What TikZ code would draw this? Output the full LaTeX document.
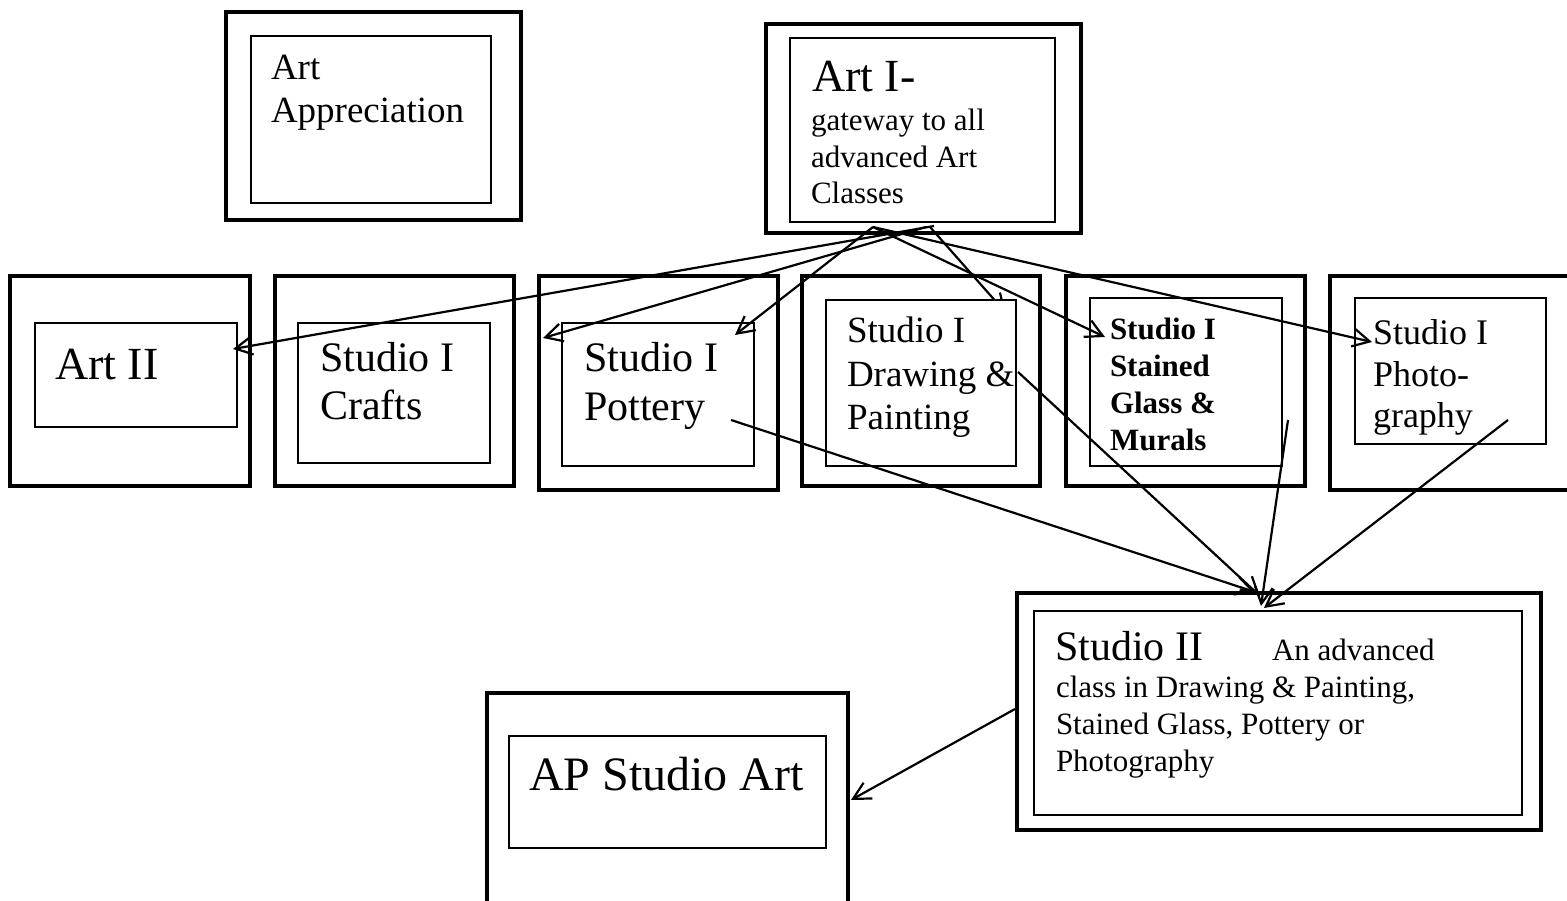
\documentclass[tikz,border=0pt]{standalone}
\usepackage{fontspec}
\setmainfont{Liberation Serif}
\usetikzlibrary{arrows.meta}
\newcommand\mkbox[6]{\node[#2, minimum width={(#5-#3)*1pt}, minimum height={(#6-#4)*1pt}] (#1) at ({(#3+#5)/2},{(#4+#6)/2}) {};}
\newcommand\stack[1]{\begin{tabular}[t]{@{}l@{}}#1\end{tabular}}
\begin{document}
\begin{tikzpicture}[x=1pt,y=-1pt,
  outerbox/.style={draw, line width=4.6pt, fill=white, rectangle, inner sep=0pt, outer sep=0pt},
  innerbox/.style={draw, line width=1.1pt, fill=white, rectangle, inner sep=0pt, outer sep=0pt},
  lbl/.style={anchor=base west, inner sep=0pt, outer sep=0pt},
  link/.style={line width=2.2pt, -{Straight Barb[length=17pt,width=18pt,line width=2.2pt]}},
]
\useasboundingbox (0,0) rectangle (1567,901);
\clip (0,0) rectangle (1567,901);
% outer frames
\mkbox{aaO}{outerbox}{226}{12}{521}{220}
\mkbox{aiO}{outerbox}{766}{24}{1081}{233}
\mkbox{a2O}{outerbox}{10}{276}{250}{486}
\mkbox{crO}{outerbox}{275}{276}{514}{486}
\mkbox{poO}{outerbox}{539}{276}{778}{490}
\mkbox{drO}{outerbox}{802}{276}{1040}{486}
\mkbox{stO}{outerbox}{1066}{276}{1305}{486}
\mkbox{phO}{outerbox}{1330}{276}{1580}{490}
\mkbox{s2O}{outerbox}{1017}{593}{1541}{830}
\mkbox{apO}{outerbox}{487}{693}{848}{930}
% arrow endpoints
\coordinate (aiL) at (873,227);
\coordinate (aiRa) at (934,226);
\coordinate (aiRb) at (926,227);
\coordinate (aiRc) at (930,227);
\coordinate (toA2) at (233,349);
\coordinate (toCr) at (543,338);
\coordinate (toPo) at (735,335);
\coordinate (toDr) at (1006,313);
\coordinate (toSt) at (1105,337);
\coordinate (toPh) at (1372,342);
\coordinate (poOut) at (731,420);
\coordinate (drOut) at (1018,372);
\coordinate (stOut) at (1288,420);
\coordinate (phOut) at (1508,420);
\coordinate (s2InA) at (1255,592);
\coordinate (s2InB) at (1260,596);
\coordinate (s2InC) at (1261,606);
\coordinate (s2InD) at (1264,608);
\coordinate (s2Out) at (1015,709);
\coordinate (apIn) at (851,800);
% arrow hidden behind the inner frame
\draw[link] (aiRc) -- (toDr);
% inner frames
\mkbox{aaI}{innerbox}{251}{36}{491}{203}
\mkbox{aiI}{innerbox}{790}{38}{1055}{222}
\mkbox{a2I}{innerbox}{35}{323}{237}{427}
\mkbox{crI}{innerbox}{298}{323}{490}{463}
\mkbox{poI}{innerbox}{562}{323}{754}{466}
\mkbox{drI}{innerbox}{826}{300}{1016}{466}
\mkbox{stI}{innerbox}{1090}{298}{1282}{466}
\mkbox{phI}{innerbox}{1355}{298}{1546}{444}
\mkbox{s2I}{innerbox}{1034}{611}{1522}{815}
\mkbox{apI}{innerbox}{509}{736}{826}{848}
% texts
\node[lbl, font=\fontsize{37}{43}\selectfont] (taa) at (271,80) {\stack{Art\\Appreciation}};
\node[lbl, font=\fontsize{46}{50}\selectfont] (tai) at (812,92) {Art I-};
\node[lbl, font=\fontsize{31}{36.5}\selectfont] (taib) at (811,131) {\stack{gateway to all\\advanced Art\\Classes}};
\node[lbl, font=\fontsize{46}{50}\selectfont] (ta2) at (55,380) {Art II};
\node[lbl, font=\fontsize{42}{48}\selectfont] (tcr) at (320,372) {\stack{Studio I\\Crafts}};
\node[lbl, font=\fontsize{42}{49}\selectfont] (tpo) at (584,372) {\stack{Studio I\\Pottery}};
\node[lbl, font=\fontsize{37}{43.5}\selectfont] (tdr) at (847,343) {\stack{Studio I\\Drawing \&\\Painting}};
\node[lbl, font=\fontsize{31}{37}\selectfont\bfseries] (tst) at (1110,340) {\stack{Studio I\\Stained\\Glass \&\\Murals}};
\node[lbl, font=\fontsize{36}{41.5}\selectfont] (tph) at (1373,345) {\stack{Studio I\\Photo-\\graphy}};
\node[lbl, font=\fontsize{42}{48}\selectfont] (ts2) at (1055,660) {Studio II};
\node[lbl, font=\fontsize{31}{37}\selectfont] (ts2b) at (1056,660) {\stack{\hspace*{216pt}An advanced\\class in Drawing \& Painting,\\Stained Glass, Pottery or\\Photography}};
\node[lbl, font=\fontsize{48}{52}\selectfont] (tap) at (529,790) {AP Studio Art};
% arrows
\draw[link] (aiRa) -- (toA2);
\draw[link] (aiRb) -- (toCr);
\draw[link] (aiL) -- (toPo);
\draw[link] (aiL) -- (toSt);
\draw[link] (aiL) -- (toPh);
\draw[link] (poOut) -- (s2InA);
\draw[link] (drOut) -- (s2InB);
\draw[link] (stOut) -- (s2InC);
\draw[link] (phOut) -- (s2InD);
\draw[link] (s2Out) -- (apIn);
\end{tikzpicture}
\end{document}
